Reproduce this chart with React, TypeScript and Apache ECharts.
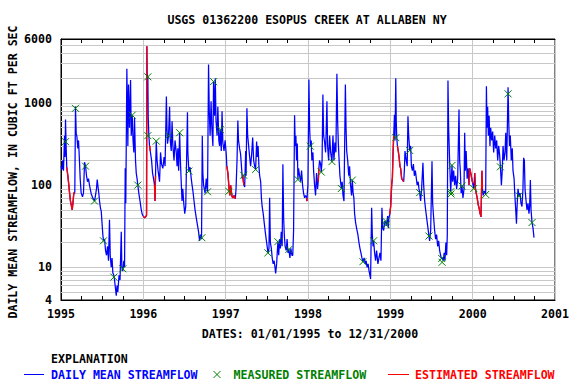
import { useEffect, useRef } from "react";
import * as echarts from "echarts";

const FONT_FAMILY = '"DejaVu Sans Mono", "Liberation Mono", monospace';
const FONT = `bold 11.6px ${FONT_FAMILY}`;
const BLUE = "#0000ff";
const GREEN = "#008000";
const RED = "#ff0000";
const GRID_GRAY = "#c8c8c8";

const TITLE = "USGS 01362200 ESOPUS CREEK AT ALLABEN NY";
const Y_NAME = "DAILY MEAN STREAMFLOW, IN CUBIC FT PER SEC";
const X_NAME = "DATES: 01/01/1995 to 12/31/2000";

const X_MIN = 1995;
const X_MAX = 2001;
const Y_MIN = 4;
const Y_MAX = 6000;
const minorGridValues = [5, 6, 7, 8, 9, 20, 30, 40, 50, 60, 70, 80, 90, 200, 300, 400, 500, 600, 700, 800, 900, 2000, 3000, 4000, 5000];

// daily mean streamflow (decimal year, cfs)
const dailyMean: [number, number][] = [
  [1995.002,170],[1995.012,155],[1995.022,200],[1995.030,150],[1995.043,400],[1995.049,220],[1995.055,630],[1995.063,280],
  [1995.070,165],[1995.083,130],[1995.095,100],[1995.107,75],[1995.115,64],[1995.128,55],[1995.136,50],[1995.146,62],[1995.156,81],[1995.164,78],
  [1995.168,85],[1995.176,906],[1995.185,420],[1995.192,400],[1995.204,280],[1995.213,350],[1995.225,190],[1995.233,120],[1995.245,80],[1995.261,72],[1995.273,80],[1995.286,190],[1995.298,170],[1995.310,130],[1995.322,110],[1995.334,120],[1995.346,100],[1995.367,78],[1995.386,70],[1995.407,64],[1995.419,75],[1995.431,90],[1995.440,117],[1995.450,95],[1995.459,80],[1995.468,64],[1995.480,52],[1995.489,48],[1995.498,35],[1995.508,25],[1995.516,21],[1995.529,22],[1995.541,16],[1995.553,14],[1995.565,18],[1995.577,12],[1995.589,38],[1995.598,14],[1995.610,10],[1995.620,13],[1995.630,8.5],[1995.642,8],[1995.650,7],[1995.662,5.5],[1995.671,4.5],[1995.681,6],[1995.690,5],[1995.705,8],[1995.717,7],[1995.732,27],[1995.739,10],[1995.751,9],[1995.763,12],[1995.772,10],[1995.780,160],[1995.787,60],[1995.800,2600],[1995.808,600],[1995.812,300],[1995.820,1680],[1995.832,500],[1995.845,1900],[1995.853,400],[1995.865,710],[1995.875,350],[1995.885,250],[1995.893,660],[1995.905,200],[1995.914,140],[1995.924,120],[1995.933,100],[1995.945,80],[1995.960,64],[1995.975,50],[1995.987,44],[1995.999,42],
  [1996.015,40],[1996.027,41],[1996.039,43],[1996.043,4900],[1996.047,2300],
  [1996.055,2000],[1996.059,700],[1996.067,400],[1996.075,300],[1996.079,300],[1996.084,260],[1996.100,200],[1996.112,140],[1996.124,120],[1996.136,100],[1996.142,64],[1996.148,130],[1996.157,343],[1996.167,200],[1996.179,150],[1996.197,110],[1996.209,250],[1996.221,180],[1996.237,160],[1996.252,220],[1996.264,170],[1996.280,1200],[1996.287,500],[1996.294,320],[1996.306,400],[1996.319,900],[1996.327,350],[1996.339,260],[1996.349,600],[1996.359,300],[1996.373,200],[1996.385,350],[1996.400,250],[1996.410,170],[1996.419,280],[1996.429,150],[1996.441,434],[1996.450,200],[1996.460,110],[1996.470,64],[1996.479,90],[1996.491,60],[1996.503,45],[1996.515,55],[1996.536,770],[1996.541,250],[1996.553,148],[1996.568,165],[1996.582,120],[1996.592,100],[1996.602,85],[1996.616,64],[1996.628,50],[1996.643,40],[1996.659,32],[1996.671,27],[1996.683,21],[1996.695,25],[1996.707,22],[1996.716,400],[1996.723,140],[1996.732,100],[1996.750,80],[1996.764,120],[1996.774,90],[1996.780,83],[1996.792,2940],[1996.801,800],[1996.811,400],[1996.823,1050],[1996.832,500],[1996.845,300],[1996.853,1816],[1996.865,700],[1996.874,2000],[1996.883,600],[1996.896,400],[1996.905,900],[1996.917,350],[1996.926,300],[1996.934,475],[1996.947,260],[1996.956,790],[1996.966,330],[1996.980,260],[1996.993,350],[1997.007,240],
  [1997.014,170],[1997.027,140],[1997.035,110],[1997.041,90],[1997.051,75],[1997.060,100],[1997.068,85],[1997.078,72],[1997.090,70],[1997.104,75],[1997.117,68],
  [1997.126,90],[1997.138,200],[1997.148,612],[1997.156,350],[1997.169,280],[1997.181,240],[1997.190,180],[1997.202,120],[1997.209,132],[1997.213,115],[1997.222,100],[1997.231,95],[1997.243,260],[1997.248,130],[1997.258,860],[1997.267,400],[1997.279,300],[1997.291,220],[1997.303,170],[1997.316,240],[1997.328,380],[1997.340,200],[1997.352,170],[1997.364,155],[1997.376,340],[1997.384,220],[1997.394,300],[1997.404,170],[1997.413,130],[1997.425,110],[1997.434,70],[1997.443,55],[1997.456,45],[1997.468,35],[1997.479,28],[1997.492,22],[1997.504,18],[1997.514,15],[1997.526,17],[1997.534,70],[1997.543,20],[1997.555,17],[1997.565,13],[1997.577,11],[1997.589,12],[1997.599,10],[1997.607,8.4],[1997.619,11],[1997.628,16],[1997.635,20.5],[1997.644,14],[1997.656,22],[1997.665,17],[1997.675,27],[1997.686,18],[1997.695,179],[1997.704,40],[1997.712,25],[1997.722,18],[1997.736,16],[1997.746,22],[1997.756,15],[1997.768,16.5],[1997.780,13],[1997.792,17],[1997.805,14],[1997.815,14],[1997.825,28],[1997.837,710],[1997.845,300],[1997.853,400],[1997.861,200],[1997.870,320],[1997.877,117],[1997.885,160],[1997.898,130],[1997.910,110],[1997.922,150],[1997.934,100],[1997.946,80],[1997.959,70],[1997.971,75],[1997.983,70],[1997.988,64],[1997.992,80],[1997.999,100],
  [1998.011,1930],[1998.020,500],[1998.028,298],[1998.039,350],[1998.047,200],[1998.060,250],[1998.068,150],[1998.080,100],[1998.092,75],[1998.104,140],[1998.116,90],[1998.124,110],[1998.128,130],[1998.132,160],[1998.141,200],[1998.153,180],[1998.161,144],[1998.171,200],[1998.181,1270],[1998.190,400],[1998.202,330],[1998.214,250],[1998.230,1050],[1998.238,300],[1998.250,200],[1998.263,400],[1998.275,250],[1998.291,193],[1998.303,400],[1998.315,200],[1998.327,330],[1998.339,250],[1998.351,2260],[1998.360,600],[1998.368,330],[1998.378,200],[1998.388,130],[1998.405,91],[1998.415,110],[1998.425,75],[1998.437,64],[1998.454,1680],[1998.462,500],[1998.470,260],[1998.482,200],[1998.495,130],[1998.505,170],[1998.517,100],[1998.529,75],[1998.538,115],[1998.548,80],[1998.557,70],[1998.566,45],[1998.578,35],[1998.590,30],[1998.606,25],[1998.619,20],[1998.631,17],[1998.643,15],[1998.655,13],[1998.667,11.7],[1998.682,13],[1998.694,11],[1998.706,12],[1998.718,10],[1998.730,11],[1998.742,9],[1998.752,8],[1998.760,7.2],[1998.773,53],[1998.781,25],[1998.790,18],[1998.797,21],[1998.809,15],[1998.821,12],[1998.833,16],[1998.849,11],[1998.862,13],[1998.874,15],[1998.886,12],[1998.898,53],[1998.907,30],[1998.919,28],[1998.931,36],[1998.943,36],[1998.955,32],[1998.968,42],[1998.976,30],[1998.983,40],[1998.992,44],
  [1999.004,55],[1999.016,100],[1999.025,123],[1999.033,250],[1999.041,400],
  [1999.050,720],[1999.057,350],[1999.066,2000],[1999.072,600],[1999.078,378],[1999.086,300],
  [1999.096,260],[1999.106,220],[1999.117,170],[1999.125,160],[1999.138,120],[1999.150,115],[1999.162,110],
  [1999.170,150],[1999.178,260],[1999.193,200],[1999.205,170],[1999.214,690],[1999.223,400],[1999.235,264],[1999.247,300],[1999.256,170],[1999.268,150],[1999.280,180],[1999.292,130],[1999.304,150],[1999.316,120],[1999.326,100],[1999.338,110],[1999.348,90],[1999.356,81],[1999.368,64],[1999.380,90],[1999.396,187],[1999.405,100],[1999.417,64],[1999.429,50],[1999.441,40],[1999.457,30],[1999.469,24],[1999.477,21],[1999.490,28],[1999.506,195],[1999.514,60],[1999.526,40],[1999.538,28],[1999.550,22],[1999.562,25],[1999.575,18],[1999.587,21],[1999.599,16],[1999.611,14],[1999.620,12.8],[1999.629,13],[1999.642,12],[1999.654,15],[1999.663,12],[1999.675,20],[1999.684,14],[1999.692,25],[1999.700,1880],[1999.708,500],[1999.720,200],[1999.733,83],[1999.741,120],[1999.749,174],[1999.757,110],[1999.769,150],[1999.781,100],[1999.793,130],[1999.805,90],[1999.818,120],[1999.834,830],[1999.842,200],[1999.850,150],[1999.860,80],[1999.870,97.6],[1999.882,70],[1999.895,90],[1999.903,434],[1999.911,150],[1999.921,260],[1999.933,120],[1999.945,160],[1999.955,100],
  [1999.964,160],[1999.977,140],[1999.989,120],[2000.001,105],
  [2000.013,91],[2000.025,140],
  [2000.034,90],[2000.043,80],[2000.055,70],[2000.067,58],[2000.079,52],[2000.091,45],[2000.101,41],[2000.113,150],[2000.118,90],
  [2000.128,75],[2000.140,85],[2000.150,80],[2000.158,77],[2000.167,1600],[2000.174,500],[2000.182,900],[2000.191,400],[2000.200,700],[2000.210,300],[2000.219,500],[2000.231,350],[2000.243,450],[2000.255,250],[2000.268,400],[2000.280,280],[2000.292,350],[2000.304,200],[2000.316,300],[2000.328,230],[2000.337,167],[2000.349,100],[2000.359,150],[2000.369,300],[2000.381,200],[2000.393,250],[2000.402,434],[2000.414,200],[2000.430,1550],[2000.438,600],[2000.447,300],[2000.457,400],[2000.469,200],[2000.481,280],[2000.490,150],[2000.503,120],[2000.511,80],[2000.523,50],[2000.532,34],[2000.541,60],[2000.551,90],[2000.563,74],[2000.575,80],[2000.587,60],[2000.599,55],[2000.611,90],[2000.619,215],[2000.628,200],[2000.636,90],[2000.648,65],[2000.660,50],[2000.672,60],[2000.684,45],[2000.692,55],[2000.701,115],[2000.709,50],[2000.721,35],[2000.733,30],[2000.745,23],
];

// periods (decimal year ranges) where the daily values are estimated
const estimatedPeriods: [number, number][] = [
  [1995.070, 1995.164], [1995.999, 1996.043], [1996.079, 1996.084], [1996.136, 1996.148],
  [1997.014, 1997.117], [1997.209, 1997.222], [1997.983, 1997.988], [1998.124, 1998.132],
  [1998.992, 1999.041], [1999.086, 1999.162], [1999.955, 2000.001], [2000.025, 2000.118],
];

// field measurements (decimal year, cfs)
const measured: [number, number][] = [
  [1995.055,338],[1995.176,860],[1995.298,170],[1995.407,64],[1995.516,21],[1995.642,7.6],[1995.751,9.6],[1995.865,710],[1995.933,100],
  [1996.055,2080],[1996.055,400],[1996.157,343],[1996.306,400],[1996.441,434],[1996.553,148],[1996.711,22.9],[1996.780,83],[1996.853,1816],[1996.934,475],
  [1997.039,84],[1997.218,132],[1997.364,155],[1997.513,15],[1997.634,20.5],[1997.768,16.5],[1997.877,117],
  [1998.028,298],[1998.162,144],[1998.291,193],[1998.405,91],[1998.538,115],[1998.667,11.7],[1998.797,21],[1998.943,36.5],[1998.949,33],
  [1999.066,378],[1999.235,264],[1999.356,81],[1999.469,24],[1999.624,12.8],[1999.629,11.5],[1999.733,83],[1999.737,78],[1999.749,174],[1999.870,97.6],
  [2000.013,91],[2000.158,77],[2000.337,167],[2000.430,1290],[2000.563,74],[2000.721,35],
];

function buildEstimated(): (number | string)[][] {
  const out: (number | string)[][] = [];
  estimatedPeriods.forEach(([a, b], i) => {
    const pts = dailyMean.filter(([t]) => t >= a - 1e-9 && t <= b + 1e-9);
    if (i > 0) out.push([a, "-"]);
    pts.forEach((p) => out.push([p[0], p[1]]));
  });
  return out;
}

function crossItem(cx: number, cy: number, s: number, color: string) {
  return [
    { type: "line", shape: { x1: cx - s, y1: cy - s, x2: cx + s, y2: cy + s }, style: { stroke: color, lineWidth: 1 } },
    { type: "line", shape: { x1: cx - s, y1: cy + s, x2: cx + s, y2: cy - s }, style: { stroke: color, lineWidth: 1 } },
  ];
}

function textEl(text: string, x: number, y: number, color: string, align: string, extra: any = {}) {
  return {
    type: "text",
    x,
    y,
    ...extra,
    style: { text, font: FONT, fill: color, align, textAlign: align, verticalAlign: "middle", textVerticalAlign: "middle" },
  };
}

export default function App() {
  const ref = useRef<HTMLDivElement>(null);

  useEffect(() => {
    if (!ref.current) return;
    const chart = echarts.init(ref.current, undefined, { renderer: "svg" });
    const labelStyle = { color: "#000", fontFamily: FONT_FAMILY, fontWeight: "bold" as const, fontSize: 11.6 };
    const option: any = {
      animation: false,
      backgroundColor: "#fff",
      grid: { left: 61, right: 21, top: 39, bottom: 84, show: true, borderColor: "#000", borderWidth: 1, backgroundColor: "transparent" },
      xAxis: [
        {
          type: "value", min: X_MIN, max: X_MAX, interval: 1, position: "bottom",
          axisLine: { show: true, onZero: false, lineStyle: { color: "#000", width: 1 } },
          axisTick: { show: false, inside: true },
          minorTick: { show: true, splitNumber: 4, length: 4, lineStyle: { color: "#000", width: 1 } },
          axisLabel: { ...labelStyle, margin: 8, showMinLabel: true, showMaxLabel: true, formatter: (v: number) => String(Math.round(v)) },
          splitLine: { show: true, lineStyle: { color: GRID_GRAY, width: 1 } },
        },
        {
          type: "value", min: X_MIN, max: X_MAX, interval: 1, position: "top",
          axisLine: { show: true, onZero: false, lineStyle: { color: "#000", width: 1 } },
          axisTick: { show: false, inside: true },
          minorTick: { show: true, splitNumber: 4, length: 4, lineStyle: { color: "#000", width: 1 } },
          axisLabel: { show: false },
          splitLine: { show: false },
        },
      ],
      yAxis: {
        type: "log", logBase: 10, min: Y_MIN, max: Y_MAX,
        axisLine: { show: true, lineStyle: { color: "#000", width: 1 } },
        axisTick: { show: false },
        axisLabel: { ...labelStyle, margin: 9, showMinLabel: true, showMaxLabel: true, formatter: (v: number) => String(Math.round(v)) },
        splitLine: { show: true, lineStyle: { color: GRID_GRAY, width: 1 } },
      },
      series: [
        {
          name: "DAILY MEAN STREAMFLOW",
          type: "line",
          xAxisIndex: 0,
          data: dailyMean,
          showSymbol: false,
          symbol: "none",
          lineStyle: { color: BLUE, width: 1.25 },
          z: 3,
          markLine: {
            silent: true,
            symbol: ["none", "none"],
            z: 1,
            label: { show: false },
            lineStyle: { color: GRID_GRAY, width: 1, type: "solid" },
            data: minorGridValues.map((v) => ({ yAxis: v })),
          },
        },
        {
          name: "ESTIMATED STREAMFLOW",
          type: "line",
          xAxisIndex: 0,
          data: buildEstimated(),
          showSymbol: false,
          symbol: "none",
          connectNulls: false,
          lineStyle: { color: RED, width: 1.4 },
          z: 4,
        },
        {
          name: "MEASURED STREAMFLOW",
          type: "custom",
          xAxisIndex: 0,
          data: measured,
          z: 5,
          renderItem: (_params: any, api: any) => {
            const p = api.coord([api.value(0), api.value(1)]);
            return { type: "group", children: crossItem(p[0], p[1], 3.5, GREEN) };
          },
        },
      ],
      graphic: [
        textEl(TITLE, 307, 20, "#000", "center"),
        textEl(Y_NAME, 13, 172, "#000", "center", { rotation: Math.PI / 2 }),
        textEl(X_NAME, 310, 334, "#000", "center"),
        textEl("EXPLANATION", 51, 359, "#000", "left"),
        { type: "line", shape: { x1: 24, y1: 374.5, x2: 44, y2: 374.5 }, style: { stroke: BLUE, lineWidth: 1 } },
        textEl("DAILY MEAN STREAMFLOW", 51, 374.5, BLUE, "left"),
        { type: "group", children: crossItem(217, 374.5, 3.5, GREEN) },
        textEl("MEASURED STREAMFLOW", 233.5, 374.5, GREEN, "left"),
        { type: "line", shape: { x1: 388, y1: 374.5, x2: 409, y2: 374.5 }, style: { stroke: RED, lineWidth: 1 } },
        textEl("ESTIMATED STREAMFLOW", 415, 374.5, RED, "left"),
      ],
    };
    chart.setOption(option);
    return () => chart.dispose();
  }, []);

  return <div ref={ref} style={{ position: "fixed", left: 0, top: 0, width: 576, height: 384, background: "#fff" }} />;
}
